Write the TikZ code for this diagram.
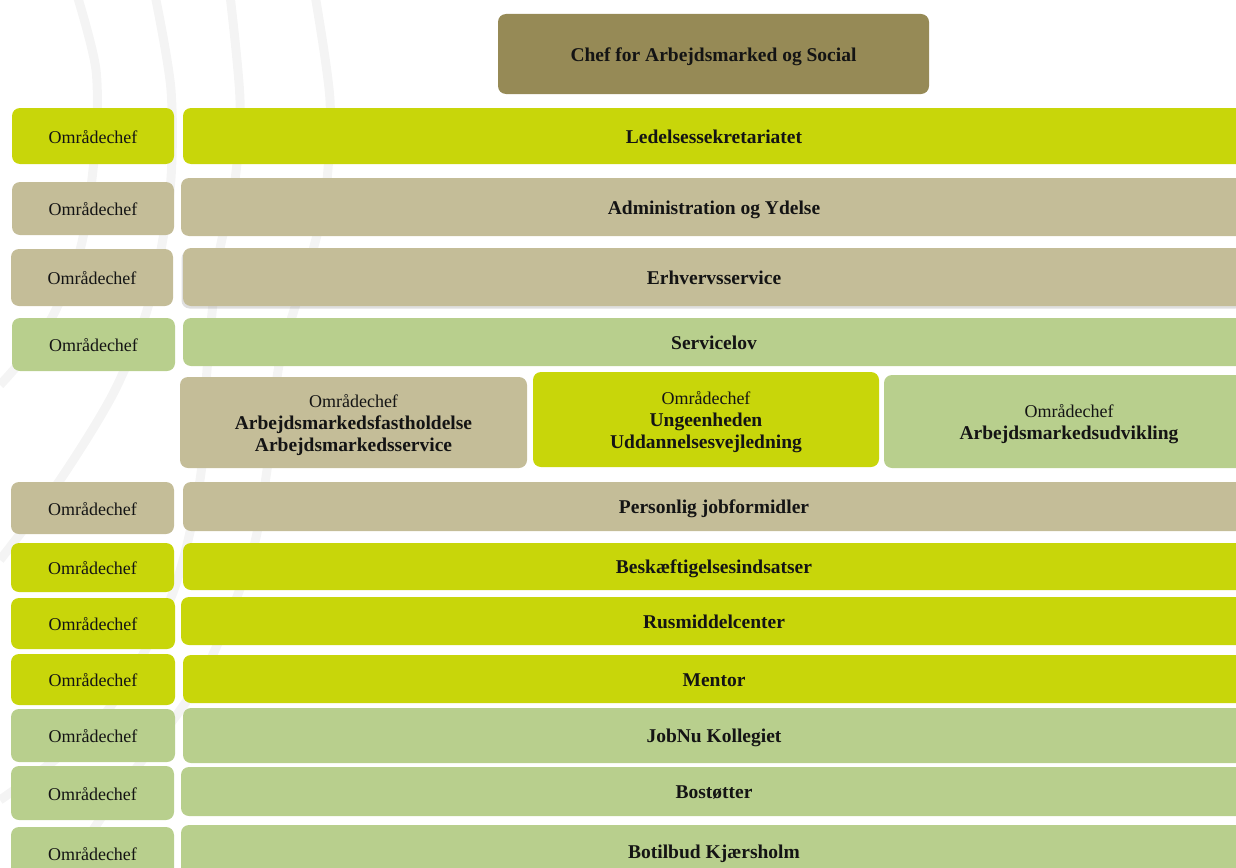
\documentclass[tikz,border=0pt]{standalone}
\usepackage{fontspec}
\setmainfont{Liberation Serif}
\usetikzlibrary{shadows}
\definecolor{topc}{RGB}{150,138,86}
\definecolor{lime}{RGB}{200,214,10}
\definecolor{tan}{RGB}{196,189,152}
\definecolor{grn}{RGB}{184,207,141}
\definecolor{wm}{RGB}{244,244,244}
\definecolor{txt}{RGB}{20,20,20}
\newcommand\regf{\fontsize{18}{22}\selectfont\mdseries}
\newcommand\bldf{\fontsize{19.5}{22}\selectfont\bfseries}
\newcommand\lift{\rule{0pt}{19pt}}
\tikzset{
  bx/.style={rounded corners=8pt, inner sep=0pt, outer sep=0pt, align=center, text=txt,
    font={\fontsize{18}{22}\selectfont}, text height=14pt, text depth=0pt},
  multi/.style={text height=, text depth=},
  wmline/.style={draw=wm, line width=9pt},
  shad/.style={drop shadow={opacity=0.25, shadow xshift=-1.5pt, shadow yshift=-2.5pt}}
}
% \bxn[extra]{name}{color}{x1}{y1}{x2}{y2}{text}
\newcommand\bxn[8][]{\node[bx, fill=#3, #1, minimum width={#6pt-#4pt}, minimum height={#7pt-#5pt}] (#2) at ({(#4+#6)/2},{(#5+#7)/2}) {#8};}
\begin{document}
\begin{tikzpicture}[x=1pt,y=-1pt]
\useasboundingbox (0,0) rectangle (1236,867);
\clip (0,0) rectangle (1236,867);
% watermark curves
\draw[wmline] plot[smooth] coordinates {(77,-5) (96,70) (95,150) (80,250) (45,330) (0,385)};
\draw[wmline] plot[smooth] coordinates {(155,-5) (171,90) (170,190) (150,300) (115,390) (60,480) (0,560)};
\draw[wmline] plot[smooth] coordinates {(230,-5) (240,100) (235,180) (218,260) (207,370) (200,480) (170,600) (100,720) (0,800)};
\draw[wmline] plot[smooth] coordinates {(315,-5) (330,100) (326,190) (313,250) (280,360) (267,470) (250,560) (200,680) (120,790) (60,880)};
% top box
\bxn{chef}{topc}{498}{14}{929}{94}{\bldf Chef for Arbejdsmarked og Social}
% rows
\bxn{l1}{lime}{12}{108}{174}{164}{\regf Områdechef}
\bxn{r1}{lime}{183}{108}{1245}{164}{\bldf Ledelsessekretariatet}
\bxn{l2}{tan}{12}{182}{174}{235}{\regf Områdechef}
\bxn{r2}{tan}{181}{178}{1247}{236}{\bldf Administration og Ydelse}
\bxn{l3}{tan}{11}{249}{173}{306}{\regf Områdechef}
\bxn[shad]{r3}{tan}{183}{248}{1245}{306}{\bldf Erhvervsservice}
\bxn{l4}{grn}{12}{318}{175}{371}{\regf Områdechef}
\bxn{r4}{grn}{183}{318}{1245}{366}{\bldf Servicelov}
% middle row
\bxn[multi]{m1}{tan}{180}{377}{527}{468}{\lift\regf Områdechef\\\bldf Arbejdsmarkedsfastholdelse\\\bldf Arbejdsmarkedsservice}
\bxn[multi]{m2}{lime}{533}{372}{879}{467}{\lift\regf Områdechef\\\bldf Ungeenheden\\\bldf Uddannelsesvejledning}
\bxn[multi]{m3}{grn}{884}{375}{1254}{468}{\lift\regf Områdechef\\\bldf Arbejdsmarkedsudvikling}
% lower rows
\bxn{l6}{tan}{11}{482}{174}{534}{\regf Områdechef}
\bxn{r6}{tan}{183}{482}{1245}{531}{\bldf Personlig jobformidler}
\bxn{l7}{lime}{11}{543}{174}{592}{\regf Områdechef}
\bxn{r7}{lime}{183}{543}{1245}{590}{\bldf Beskæftigelsesindsatser}
\bxn{l8}{lime}{11}{598}{175}{649}{\regf Områdechef}
\bxn{r8}{lime}{181}{597}{1247}{645}{\bldf Rusmiddelcenter}
\bxn{l9}{lime}{11}{654}{175}{705}{\regf Områdechef}
\bxn{r9}{lime}{183}{655}{1245}{703}{\bldf Mentor}
\bxn{l10}{grn}{11}{709}{175}{762}{\regf Områdechef}
\bxn{r10}{grn}{183}{708}{1245}{763}{\bldf JobNu Kollegiet}
\bxn{l11}{grn}{11}{766}{174}{820}{\regf Områdechef}
\bxn{r11}{grn}{181}{767}{1247}{816}{\bldf Bostøtter}
\bxn{l12}{grn}{11}{827}{174}{879}{\regf Områdechef}
\bxn{r12}{grn}{181}{825}{1247}{877}{\bldf Botilbud Kjærsholm}
\end{tikzpicture}
\end{document}
